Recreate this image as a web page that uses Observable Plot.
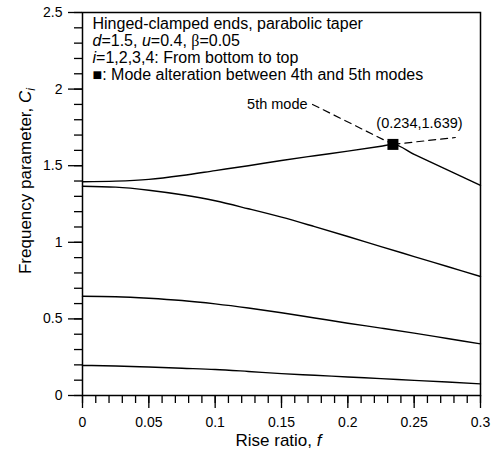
<!DOCTYPE html>
<html>
<head>
<meta charset="utf-8">
<script src="https://cdn.jsdelivr.net/npm/d3@7"></script>
<script src="https://cdn.jsdelivr.net/npm/@observablehq/plot@0.6"></script>
<style>
  html, body { margin: 0; padding: 0; background: #fff; }
  svg { font-family: "Liberation Sans", Arial, sans-serif; }
</style>
</head>
<body>
<div id="chart"></div>
<script>
// ---- data ----
const riseRatio = [0, 0.025, 0.05, 0.075, 0.1, 0.125, 0.15, 0.175, 0.2, 0.225, 0.25, 0.275, 0.3];
const mode1 = [0.196, 0.193, 0.186, 0.178, 0.170, 0.157, 0.143, 0.132, 0.121, 0.110, 0.099, 0.088, 0.076];
const mode2 = [0.648, 0.645, 0.635, 0.620, 0.598, 0.571, 0.540, 0.506, 0.472, 0.440, 0.407, 0.372, 0.337];
const mode3 = [1.366, 1.360, 1.340, 1.310, 1.271, 1.219, 1.164, 1.102, 1.038, 0.972, 0.907, 0.842, 0.777];
const riseRatio4 = [0, 0.025, 0.05, 0.075, 0.1, 0.125, 0.15, 0.175, 0.2, 0.225, 0.234, 0.25, 0.275, 0.3];
const mode4 = [1.395, 1.399, 1.411, 1.436, 1.468, 1.500, 1.534, 1.565, 1.595, 1.627, 1.639, 1.574, 1.473, 1.371];

const alteration = {f: 0.234, c: 1.639};
const alterationLabel = "(0.234,1.639)";
const labelPos = {f: 0.254, c: 1.775};
const fifthModeLabel = "5th mode";
const leader1 = [{f: 0.1734, c: 1.90}, {f: 0.234, c: 1.639}];
const leader2 = [{f: 0.234, c: 1.639}, {f: 0.281, c: 1.684}];

const xTicks = [0, 0.05, 0.1, 0.15, 0.2, 0.25, 0.3];
const xMinor = d3.range(0, 31).map(i => i / 100);
const yTicks = [0, 0.5, 1, 1.5, 2, 2.5];
const yMinor = d3.range(0, 26).map(i => i / 10);

const legendLines = [
  "Hinged-clamped ends, parabolic taper",
  "*d*=1.5, *u*=0.4, ~β~=0.05",
  "*i*=1,2,3,4: From bottom to top",
  "■: Mode alteration between 4th and 5th modes"
];
const xTitle = "Rise ratio, *f*";
const yTitle = "Frequency parameter, *C*_i_";

const toRows = (xs, ys) => xs.map((x, i) => ({f: x, c: ys[i]}));
const curves = [toRows(riseRatio, mode1), toRows(riseRatio, mode2), toRows(riseRatio, mode3), toRows(riseRatio4, mode4)];

const plot = Plot.plot({
  width: 500,
  height: 451,
  marginLeft: 82,
  marginRight: 20,
  marginTop: 12,
  marginBottom: 56,
  style: {background: "#fff", color: "#000", fontFamily: "Liberation Sans, Arial, sans-serif"},
  x: {domain: [0, 0.3]},
  y: {domain: [0, 2.5]},
  marks: [
    Plot.axisX({ticks: xMinor, tickSize: 8, tickFormat: () => "", stroke: "#000", strokeWidth: 1.3, label: null}),
    Plot.axisX({ticks: xTicks, tickSize: 13, tickPadding: 9, tickFormat: d => String(d), fontSize: 14, stroke: "#000", strokeWidth: 1.3, fill: "#000", label: null}),
    Plot.axisY({ticks: yMinor, tickSize: 8, tickFormat: () => "", stroke: "#000", strokeWidth: 1.3, label: null}),
    Plot.axisY({ticks: yTicks, tickSize: 14, tickPadding: 6, tickFormat: d => String(d), fontSize: 14, stroke: "#000", strokeWidth: 1.3, fill: "#000", label: null}),
    Plot.frame({stroke: "#000", strokeWidth: 1.5}),
    ...curves.map(rows => Plot.line(rows, {x: "f", y: "c", stroke: "#000", strokeWidth: 1.4, curve: "monotone-x"})),
    Plot.line(leader1, {x: "f", y: "c", stroke: "#000", strokeWidth: 1.2, strokeDasharray: "7,5"}),
    Plot.line(leader2, {x: "f", y: "c", stroke: "#000", strokeWidth: 1.2, strokeDasharray: "7,5"}),
    Plot.dot([alteration], {x: "f", y: "c", symbol: "square", r: 6.2, fill: "#000", stroke: "none"}),
    Plot.text([fifthModeLabel], {x: () => leader1[0].f, y: () => leader1[0].c, text: d => d, textAnchor: "end", dx: -5, fontSize: 14.5, fill: "#000"}),
    Plot.text([alterationLabel], {x: () => labelPos.f, y: () => labelPos.c, text: d => d, textAnchor: "middle", fontSize: 14.5, fill: "#000"}),
    ...legendLines.map((line, i) => Plot.text([line], {frameAnchor: "top-left", text: d => d, dx: 10, dy: 11 + i * 17, lineAnchor: "middle", textAnchor: "start", fontSize: 16, fill: "#000"})),
    Plot.text([xTitle], {frameAnchor: "bottom", text: d => d, dy: 45, dx: -3, lineAnchor: "middle", textAnchor: "middle", fontSize: 17, fill: "#000"}),
    Plot.text([yTitle], {frameAnchor: "left", text: d => d, dx: -57, dy: -23, rotate: -90, lineAnchor: "middle", textAnchor: "middle", fontSize: 17, fill: "#000"})
  ]
});

// rich text: *italic*, _italic subscript_, ~serif~
d3.select(plot).selectAll("text").each(function() {
  const t = this.textContent;
  if (!/[*_~]/.test(t) || this.querySelector("tspan")) return;
  const parts = t.split(/(\*[^*]+\*|_[^_]+_|~[^~]+~)/).filter(s => s.length);
  const el = d3.select(this);
  el.text(null);
  let shifted = false;
  for (const p of parts) {
    const ts = el.append("tspan");
    if (p[0] === "*") {
      ts.text(p.slice(1, -1)).attr("font-style", "italic");
      if (shifted) { ts.attr("dy", "-0.3em"); shifted = false; }
    } else if (p[0] === "_") {
      ts.text(p.slice(1, -1)).attr("font-style", "italic").attr("font-size", "0.72em").attr("dy", "0.35em");
      shifted = true;
    } else if (p[0] === "~") {
      ts.text(p.slice(1, -1)).attr("font-family", "Liberation Serif, DejaVu Serif, serif");
      if (shifted) { ts.attr("dy", "-0.3em"); shifted = false; }
    } else {
      ts.text(p);
      if (shifted) { ts.attr("dy", "-0.3em"); shifted = false; }
    }
  }
});

document.getElementById("chart").appendChild(plot);
</script>
</body>
</html>
